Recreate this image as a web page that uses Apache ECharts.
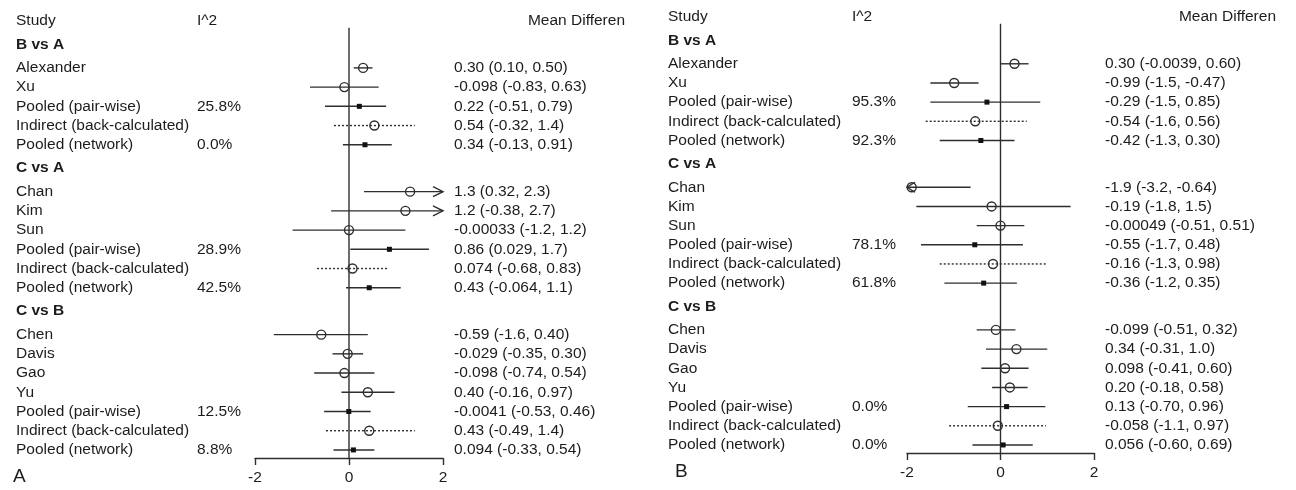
<!DOCTYPE html>
<html><head><meta charset="utf-8">
<script src="https://cdn.jsdelivr.net/npm/echarts@6/dist/echarts.min.js"></script>
<style>html,body{margin:0;padding:0;background:#fff}#c{width:1296px;height:490px}</style>
</head><body><div id="c"></div>
<script>
// ---------- data ----------
const groups = ['B vs A', 'C vs A', 'C vs B'];
const groupSizes = [5, 6, 7];
const studyNames = ['Alexander', 'Xu', 'Pooled (pair-wise)', 'Indirect (back-calculated)', 'Pooled (network)',
  'Chan', 'Kim', 'Sun', 'Pooled (pair-wise)', 'Indirect (back-calculated)', 'Pooled (network)',
  'Chen', 'Davis', 'Gao', 'Yu', 'Pooled (pair-wise)', 'Indirect (back-calculated)', 'Pooled (network)'];
const rowKinds = ['study', 'study', 'pooled', 'indirect', 'pooled',
  'study', 'study', 'study', 'pooled', 'indirect', 'pooled',
  'study', 'study', 'study', 'study', 'pooled', 'indirect', 'pooled'];
const xTicks = [-2, 0, 2];

const estA = [0.30, -0.098, 0.22, 0.54, 0.34, 1.3, 1.2, -0.00033, 0.86, 0.074, 0.43, -0.59, -0.029, -0.098, 0.40, -0.0041, 0.43, 0.094];
const loA = [0.10, -0.83, -0.51, -0.32, -0.13, 0.32, -0.38, -1.2, 0.029, -0.68, -0.064, -1.6, -0.35, -0.74, -0.16, -0.53, -0.49, -0.33];
const hiA = [0.50, 0.63, 0.79, 1.4, 0.91, 2.3, 2.7, 1.2, 1.7, 0.83, 1.1, 0.40, 0.30, 0.54, 0.97, 0.46, 1.4, 0.54];
const i2A = [null, null, 25.8, null, 0.0, null, null, null, 28.9, null, 42.5, null, null, null, null, 12.5, null, 8.8];

const estB = [0.30, -0.99, -0.29, -0.54, -0.42, -1.9, -0.19, -0.00049, -0.55, -0.16, -0.36, -0.099, 0.34, 0.098, 0.20, 0.13, -0.058, 0.056];
const loB = [-0.0039, -1.5, -1.5, -1.6, -1.3, -3.2, -1.8, -0.51, -1.7, -1.3, -1.2, -0.51, -0.31, -0.41, -0.18, -0.70, -1.1, -0.60];
const hiB = [0.60, -0.47, 0.85, 0.56, 0.30, -0.64, 1.5, 0.51, 0.48, 0.98, 0.35, 0.32, 1.0, 0.60, 0.58, 0.96, 0.97, 0.69];
const i2B = [null, null, 95.3, null, 92.3, null, null, null, 78.1, null, 61.8, null, null, null, null, 0.0, null, 0.0];

const colTitles = ['Study', 'I^2', 'Mean Differen'];
const panelLabels = ['A', 'B'];

// ---------- layout (row positions) ----------
const HEAD_GAP = 1.22;
const Y_MAX = 22.74;
const rowPos = [], headerPos = [];
(function () {
  let cur = 0;
  groupSizes.forEach((n, g) => {
    cur += HEAD_GAP; headerPos.push(cur);
    cur += HEAD_GAP;
    for (let k = 0; k < n; k++) { if (k > 0) cur += 1; rowPos.push(cur); }
  });
})();

const FONT = '"Liberation Sans", Arial, sans-serif';
const FS = 15.5;
const TXT = '#1c1c1c';
const LINE = '#2e2e2e';
const XMIN = -2, XMAX = 2;

function fmt(v) { return v.toPrecision(2); }

function forestRender(est, lo, hi) {
  return function (params, api) {
    const i = params.dataIndex;
    const p = rowPos[i];
    const y = api.coord([0, p])[1];
    const l = Math.max(lo[i], XMIN), h = Math.min(hi[i], XMAX);
    const x1 = api.coord([l, p])[0], x2 = api.coord([h, p])[0];
    const xe = api.coord([est[i], p])[0];
    const kind = rowKinds[i];
    const ch = [];
    ch.push({ type: 'line', shape: { x1: x1, y1: y, x2: x2, y2: y },
      style: { stroke: LINE, lineWidth: 1.4, lineDash: kind === 'indirect' ? [2, 2] : null } });
    if (hi[i] > XMAX) ch.push({ type: 'polyline', shape: { points: [[x2 - 10, y - 5], [x2, y], [x2 - 10, y + 5]] },
      style: { stroke: LINE, lineWidth: 1.4, fill: 'none' } });
    if (lo[i] < XMIN) ch.push({ type: 'polyline', shape: { points: [[x1 + 8, y - 5], [x1, y], [x1 + 8, y + 5]] },
      style: { stroke: LINE, lineWidth: 1.4, fill: 'none' } });
    if (kind === 'pooled') ch.push({ type: 'rect', shape: { x: xe - 2.5, y: y - 2.5, width: 5, height: 5 }, style: { fill: '#111' } });
    else ch.push({ type: 'circle', shape: { cx: xe, cy: y, r: 4.5 }, style: { fill: 'none', stroke: LINE, lineWidth: 1.4 } });
    return { type: 'group', children: ch };
  };
}

function textRender(est, lo, hi, i2, i2Off) {
  return function (params, api) {
    const left = api.coord([XMIN, 0])[0], right = api.coord([XMAX, 0])[0];
    const ch = [];
    const mk = (x, y, t, bold, align) => ({ type: 'text', x: x, y: y,
      style: { text: t, font: (bold ? 'bold ' : '') + FS + 'px ' + FONT, fill: TXT, align: align || 'left', verticalAlign: 'middle' } });
    const y0 = api.coord([0, 0])[1];
    ch.push(mk(left - 239, y0, colTitles[0]));
    ch.push(mk(left - i2Off, y0, colTitles[1]));
    ch.push(mk(right + 182, y0, colTitles[2], false, 'right'));
    groups.forEach((g, k) => ch.push(mk(left - 239, api.coord([0, headerPos[k]])[1], g, true)));
    studyNames.forEach((s, i) => {
      const y = api.coord([0, rowPos[i]])[1];
      ch.push(mk(left - 239, y, s));
      if (i2[i] !== null) ch.push(mk(left - i2Off, y, i2[i].toFixed(1) + '%'));
      ch.push(mk(right + 11, y, fmt(est[i]) + ' (' + fmt(lo[i]) + ', ' + fmt(hi[i]) + ')'));
    });
    return { type: 'group', children: ch };
  };
}

function zeroRender(params, api) {
  const a = api.coord([0, 0.35]), b = api.coord([0, Y_MAX]);
  return { type: 'line', shape: { x1: a[0], y1: a[1], x2: b[0], y2: b[1] }, style: { stroke: LINE, lineWidth: 1.4 } };
}

const xAxisBase = (gi) => ({
  type: 'value', gridIndex: gi, position: 'bottom',
  min: xTicks[0], max: xTicks[xTicks.length - 1], interval: xTicks[1] - xTicks[0],
  splitLine: { show: false },
  axisLine: { show: true, onZero: false, lineStyle: { color: LINE, width: 1.4 } },
  axisTick: { show: true, length: 7, inside: false, lineStyle: { color: LINE, width: 1.4 } },
  axisLabel: { fontSize: FS, fontFamily: FONT, color: TXT, margin: 12 }
});
const yAxisBase = (gi) => ({ type: 'value', gridIndex: gi, min: 0, max: Y_MAX, inverse: true, show: false });

const chart = echarts.init(document.getElementById('c'), null, { renderer: 'canvas' });
const rowData = studyNames.map((s, i) => [0, rowPos[i]]);
chart.setOption({
  animation: false,
  backgroundColor: '#fff',
  grid: [
    { left: 255, width: 188, top: 21, height: 437 },
    { left: 907, width: 187, top: 17, height: 436 }
  ],
  xAxis: [xAxisBase(0), xAxisBase(1)],
  yAxis: [yAxisBase(0), yAxisBase(1)],
  graphic: [
    { type: 'text', left: 13, top: 467, style: { text: panelLabels[0], font: '19px ' + FONT, fill: TXT } },
    { type: 'text', left: 675, top: 462, style: { text: panelLabels[1], font: '19px ' + FONT, fill: TXT } }
  ],
  series: [
    { type: 'custom', xAxisIndex: 0, yAxisIndex: 0, data: [[0, 0]], renderItem: zeroRender, silent: true },
    { type: 'custom', xAxisIndex: 0, yAxisIndex: 0, data: rowData, renderItem: forestRender(estA, loA, hiA), silent: true, clip: false },
    { type: 'custom', xAxisIndex: 0, yAxisIndex: 0, data: [[0, 0]], renderItem: textRender(estA, loA, hiA, i2A, 58), silent: true, clip: false },
    { type: 'custom', xAxisIndex: 1, yAxisIndex: 1, data: [[0, 0]], renderItem: zeroRender, silent: true },
    { type: 'custom', xAxisIndex: 1, yAxisIndex: 1, data: rowData, renderItem: forestRender(estB, loB, hiB), silent: true, clip: false },
    { type: 'custom', xAxisIndex: 1, yAxisIndex: 1, data: [[0, 0]], renderItem: textRender(estB, loB, hiB, i2B, 55), silent: true, clip: false }
  ]
});
</script></body></html>
